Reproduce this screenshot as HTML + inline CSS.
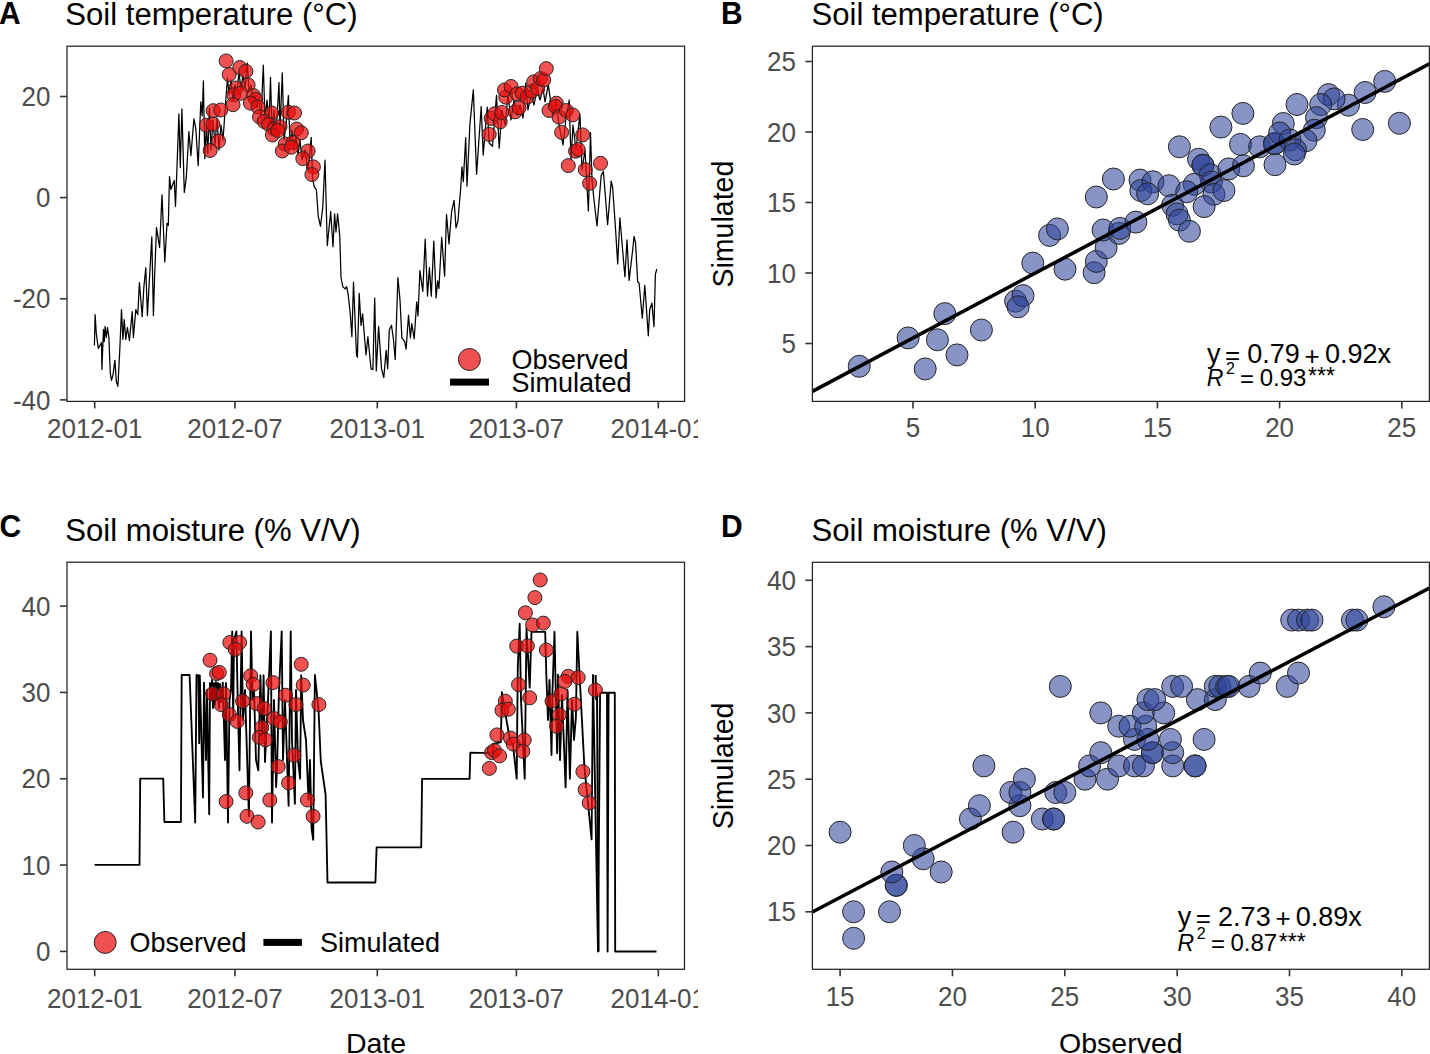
<!DOCTYPE html>
<html><head><meta charset="utf-8"><style>
html,body{margin:0;padding:0;background:#fff;width:1430px;height:1054px;overflow:hidden}
svg{display:block}
</style></head><body>
<svg width="1430" height="1054" viewBox="0 0 1430 1054">
<rect width="1430" height="1054" fill="#fff"/>
<text transform="translate(-1,24.1) scale(1,1.02)" x="0" y="0" font-family="Liberation Sans" font-size="30" font-weight="bold" fill="#000">A</text>
<text transform="translate(65.3,24.6) scale(1,1.03)" x="0" y="0" font-family="Liberation Sans" font-size="31.1" fill="#000">Soil temperature (°C)</text>
<polyline points="94.4,345.5 95.1,314.6 96.3,333.5 98.3,348.5 99.9,345.5 101.5,342.5 101.9,369.4 103.5,329.5 104.3,341.5 105.1,326.5 106.3,337.5 107.5,327.5 108.9,337.5 110.3,373.4 111.5,380.3 113.1,374.4 114.9,360.4 116.3,381.3 117.9,386.3 119.9,347.5 121.5,309.6 122.9,339.5 124.2,319.6 125.8,339.5 127.4,327.5 129.4,340.5 132.2,311.6 133.4,337.5 135.8,309.6 137.8,314.6 139.4,282.7 142.2,316.6 143.8,287.7 145.8,267.7 147.4,315.6 150.2,265.7 151.8,236.8 153.4,315.6 154.7,273.7 156.5,227.5 158.0,237.4 159.6,247.5 162.0,194.8 164.8,262.0 167.0,223.4 168.3,225.4 169.5,176.6 170.9,189.5 172.3,185.5 174.3,180.6 175.5,206.5 176.9,169.6 178.9,113.8 180.3,167.6 181.9,108.8 184.3,192.5 186.3,177.6 188.9,131.7 190.9,155.6 193.9,118.8 195.8,128.7 198.2,165.6 200.8,101.8 202.2,115.8 203.4,80.9 204.8,158.6 206.4,125.7 207.8,153.6 209.4,107.8 211.0,150.0 213.0,120.0 215.0,145.0 217.0,118.0 219.0,150.0 221.0,125.0 223.0,140.0 225.7,101.8 227.5,78.0 229.0,95.0 231.0,80.0 233.0,100.0 235.0,85.0 237.0,92.0 239.0,72.0 241.0,90.0 243.0,75.0 245.0,88.0 247.3,63.0 249.0,92.0 251.0,85.0 253.0,100.0 255.0,95.0 257.0,108.0 259.0,100.0 261.0,118.0 263.3,65.2 265.0,120.0 267.0,100.0 269.0,125.0 270.5,77.3 272.0,130.0 274.0,110.0 276.0,135.0 279.0,82.6 280.0,130.0 282.3,72.8 284.0,140.0 286.0,125.0 288.4,95.5 290.0,145.0 292.0,130.0 294.0,150.0 296.0,135.0 298.0,155.0 300.0,140.0 302.0,160.0 305.0,150.0 308.0,170.0 311.2,137.3 312.5,177.3 314.1,186.4 316.4,189.8 318.2,216.0 320.5,226.3 322.8,206.9 325.0,160.2 327.3,245.6 330.7,211.5 333.0,246.8 334.6,213.8 336.0,232.0 337.6,213.8 339.8,236.5 341.0,277.5 342.8,286.6 345.1,288.9 346.7,286.6 348.3,295.7 350.1,311.7 351.9,336.7 353.5,282.1 356.5,354.9 357.4,357.2 359.2,293.4 361.0,325.3 362.6,313.9 366.0,354.9 367.9,336.7 371.0,368.6 372.9,369.7 374.7,298.0 376.3,370.9 378.6,326.5 381.5,368.6 383.8,377.7 386.1,350.4 387.7,368.6 389.3,329.9 391.5,325.3 393.4,339.0 395.2,359.5 397.9,277.5 400.0,299.9 401.9,337.9 404.7,341.7 406.1,349.2 408.5,315.1 410.4,337.9 411.8,323.6 414.2,338.8 416.7,301.8 418.0,316.0 419.9,270.5 422.8,291.4 425.2,239.2 427.5,296.1 429.4,267.6 431.3,296.1 433.8,241.1 436.1,298.0 437.6,280.9 438.9,288.5 441.7,237.3 444.6,276.2 446.5,214.5 449.0,243.9 451.6,211.7 454.1,200.3 456.0,227.8 457.9,221.2 460.6,189.5 462.0,166.9 463.3,181.6 465.7,137.7 467.0,186.2 469.9,124.4 473.3,89.9 476.6,174.3 481.2,106.5 483.2,155.0 487.2,107.1 489.2,143.0 492.5,146.3 496.5,95.2 499.2,148.3 502.0,110.0 505.0,125.0 508.0,95.0 511.0,120.0 514.0,100.0 517.0,115.0 520.0,105.0 523.0,118.0 525.7,83.2 528.0,110.0 531.0,95.0 534.0,105.0 537.0,90.0 540.0,100.0 543.0,88.0 545.0,101.8 548.3,84.6 550.3,99.2 553.0,115.0 556.0,100.0 559.0,125.0 563.0,145.0 566.0,118.0 569.2,100.0 571.0,160.0 573.0,125.0 576.0,150.0 579.9,114.2 582.0,170.0 585.0,150.0 588.4,211.0 590.5,132.7 592.0,180.0 594.0,200.0 597.0,226.0 601.2,175.4 603.4,171.2 607.6,224.6 611.2,181.1 612.6,186.8 615.6,229.9 617.7,264.0 619.9,217.8 624.9,276.8 627.0,239.8 629.1,280.4 632.7,249.8 634.1,236.3 635.5,242.7 637.7,281.8 639.1,283.2 642.3,318.1 644.8,285.3 648.3,335.8 649.7,309.5 651.9,303.1 654.0,326.6 655.4,274.0 656.9,269.0" fill="none" stroke="#000" stroke-width="1.25" stroke-linejoin="round"/>
<circle cx="226.1" cy="60.9" r="7" fill="rgb(232,14,12)" fill-opacity="0.72" stroke="#262626" stroke-width="1.0"/>
<circle cx="229.2" cy="74.6" r="7" fill="rgb(232,14,12)" fill-opacity="0.72" stroke="#262626" stroke-width="1.0"/>
<circle cx="239.8" cy="67.5" r="7" fill="rgb(232,14,12)" fill-opacity="0.72" stroke="#262626" stroke-width="1.0"/>
<circle cx="245.9" cy="71.3" r="7" fill="rgb(232,14,12)" fill-opacity="0.72" stroke="#262626" stroke-width="1.0"/>
<circle cx="248.1" cy="84.9" r="7" fill="rgb(232,14,12)" fill-opacity="0.72" stroke="#262626" stroke-width="1.0"/>
<circle cx="236.0" cy="88.0" r="7" fill="rgb(232,14,12)" fill-opacity="0.72" stroke="#262626" stroke-width="1.0"/>
<circle cx="233.7" cy="94.8" r="7" fill="rgb(232,14,12)" fill-opacity="0.72" stroke="#262626" stroke-width="1.0"/>
<circle cx="240.6" cy="93.3" r="7" fill="rgb(232,14,12)" fill-opacity="0.72" stroke="#262626" stroke-width="1.0"/>
<circle cx="233.0" cy="104.7" r="7" fill="rgb(232,14,12)" fill-opacity="0.72" stroke="#262626" stroke-width="1.0"/>
<circle cx="213.2" cy="110.7" r="7" fill="rgb(232,14,12)" fill-opacity="0.72" stroke="#262626" stroke-width="1.0"/>
<circle cx="220.8" cy="110.0" r="7" fill="rgb(232,14,12)" fill-opacity="0.72" stroke="#262626" stroke-width="1.0"/>
<circle cx="206.4" cy="125.2" r="7" fill="rgb(232,14,12)" fill-opacity="0.72" stroke="#262626" stroke-width="1.0"/>
<circle cx="212.9" cy="124.1" r="7" fill="rgb(232,14,12)" fill-opacity="0.72" stroke="#262626" stroke-width="1.0"/>
<circle cx="218.5" cy="141.1" r="7" fill="rgb(232,14,12)" fill-opacity="0.72" stroke="#262626" stroke-width="1.0"/>
<circle cx="210.2" cy="150.5" r="7" fill="rgb(232,14,12)" fill-opacity="0.72" stroke="#262626" stroke-width="1.0"/>
<circle cx="253.5" cy="95.6" r="7" fill="rgb(232,14,12)" fill-opacity="0.72" stroke="#262626" stroke-width="1.0"/>
<circle cx="255.7" cy="99.3" r="7" fill="rgb(232,14,12)" fill-opacity="0.72" stroke="#262626" stroke-width="1.0"/>
<circle cx="250.4" cy="103.1" r="7" fill="rgb(232,14,12)" fill-opacity="0.72" stroke="#262626" stroke-width="1.0"/>
<circle cx="258.0" cy="106.9" r="7" fill="rgb(232,14,12)" fill-opacity="0.72" stroke="#262626" stroke-width="1.0"/>
<circle cx="259.5" cy="116.8" r="7" fill="rgb(232,14,12)" fill-opacity="0.72" stroke="#262626" stroke-width="1.0"/>
<circle cx="271.7" cy="113.0" r="7" fill="rgb(232,14,12)" fill-opacity="0.72" stroke="#262626" stroke-width="1.0"/>
<circle cx="264.1" cy="121.4" r="7" fill="rgb(232,14,12)" fill-opacity="0.72" stroke="#262626" stroke-width="1.0"/>
<circle cx="268.6" cy="124.4" r="7" fill="rgb(232,14,12)" fill-opacity="0.72" stroke="#262626" stroke-width="1.0"/>
<circle cx="274.0" cy="129.0" r="7" fill="rgb(232,14,12)" fill-opacity="0.72" stroke="#262626" stroke-width="1.0"/>
<circle cx="280.0" cy="126.7" r="7" fill="rgb(232,14,12)" fill-opacity="0.72" stroke="#262626" stroke-width="1.0"/>
<circle cx="272.4" cy="135.0" r="7" fill="rgb(232,14,12)" fill-opacity="0.72" stroke="#262626" stroke-width="1.0"/>
<circle cx="277.8" cy="130.5" r="7" fill="rgb(232,14,12)" fill-opacity="0.72" stroke="#262626" stroke-width="1.0"/>
<circle cx="288.4" cy="112.3" r="7" fill="rgb(232,14,12)" fill-opacity="0.72" stroke="#262626" stroke-width="1.0"/>
<circle cx="294.5" cy="113.0" r="7" fill="rgb(232,14,12)" fill-opacity="0.72" stroke="#262626" stroke-width="1.0"/>
<circle cx="296.7" cy="129.0" r="7" fill="rgb(232,14,12)" fill-opacity="0.72" stroke="#262626" stroke-width="1.0"/>
<circle cx="301.3" cy="132.8" r="7" fill="rgb(232,14,12)" fill-opacity="0.72" stroke="#262626" stroke-width="1.0"/>
<circle cx="285.3" cy="144.1" r="7" fill="rgb(232,14,12)" fill-opacity="0.72" stroke="#262626" stroke-width="1.0"/>
<circle cx="292.9" cy="142.6" r="7" fill="rgb(232,14,12)" fill-opacity="0.72" stroke="#262626" stroke-width="1.0"/>
<circle cx="282.3" cy="151.0" r="7" fill="rgb(232,14,12)" fill-opacity="0.72" stroke="#262626" stroke-width="1.0"/>
<circle cx="291.4" cy="147.2" r="7" fill="rgb(232,14,12)" fill-opacity="0.72" stroke="#262626" stroke-width="1.0"/>
<circle cx="308.1" cy="151.0" r="7" fill="rgb(232,14,12)" fill-opacity="0.72" stroke="#262626" stroke-width="1.0"/>
<circle cx="302.8" cy="158.6" r="7" fill="rgb(232,14,12)" fill-opacity="0.72" stroke="#262626" stroke-width="1.0"/>
<circle cx="313.4" cy="166.9" r="7" fill="rgb(232,14,12)" fill-opacity="0.72" stroke="#262626" stroke-width="1.0"/>
<circle cx="311.9" cy="174.5" r="7" fill="rgb(232,14,12)" fill-opacity="0.72" stroke="#262626" stroke-width="1.0"/>
<circle cx="489.2" cy="134.4" r="7" fill="rgb(232,14,12)" fill-opacity="0.72" stroke="#262626" stroke-width="1.0"/>
<circle cx="491.2" cy="118.4" r="7" fill="rgb(232,14,12)" fill-opacity="0.72" stroke="#262626" stroke-width="1.0"/>
<circle cx="494.5" cy="113.8" r="7" fill="rgb(232,14,12)" fill-opacity="0.72" stroke="#262626" stroke-width="1.0"/>
<circle cx="500.2" cy="121.8" r="7" fill="rgb(232,14,12)" fill-opacity="0.72" stroke="#262626" stroke-width="1.0"/>
<circle cx="501.8" cy="112.5" r="7" fill="rgb(232,14,12)" fill-opacity="0.72" stroke="#262626" stroke-width="1.0"/>
<circle cx="505.8" cy="97.2" r="7" fill="rgb(232,14,12)" fill-opacity="0.72" stroke="#262626" stroke-width="1.0"/>
<circle cx="504.5" cy="89.9" r="7" fill="rgb(232,14,12)" fill-opacity="0.72" stroke="#262626" stroke-width="1.0"/>
<circle cx="511.1" cy="86.5" r="7" fill="rgb(232,14,12)" fill-opacity="0.72" stroke="#262626" stroke-width="1.0"/>
<circle cx="515.1" cy="111.8" r="7" fill="rgb(232,14,12)" fill-opacity="0.72" stroke="#262626" stroke-width="1.0"/>
<circle cx="519.1" cy="107.8" r="7" fill="rgb(232,14,12)" fill-opacity="0.72" stroke="#262626" stroke-width="1.0"/>
<circle cx="517.1" cy="93.9" r="7" fill="rgb(232,14,12)" fill-opacity="0.72" stroke="#262626" stroke-width="1.0"/>
<circle cx="522.4" cy="93.2" r="7" fill="rgb(232,14,12)" fill-opacity="0.72" stroke="#262626" stroke-width="1.0"/>
<circle cx="527.1" cy="97.2" r="7" fill="rgb(232,14,12)" fill-opacity="0.72" stroke="#262626" stroke-width="1.0"/>
<circle cx="531.7" cy="91.2" r="7" fill="rgb(232,14,12)" fill-opacity="0.72" stroke="#262626" stroke-width="1.0"/>
<circle cx="533.7" cy="81.9" r="7" fill="rgb(232,14,12)" fill-opacity="0.72" stroke="#262626" stroke-width="1.0"/>
<circle cx="537.7" cy="88.5" r="7" fill="rgb(232,14,12)" fill-opacity="0.72" stroke="#262626" stroke-width="1.0"/>
<circle cx="540.4" cy="78.6" r="7" fill="rgb(232,14,12)" fill-opacity="0.72" stroke="#262626" stroke-width="1.0"/>
<circle cx="543.7" cy="79.9" r="7" fill="rgb(232,14,12)" fill-opacity="0.72" stroke="#262626" stroke-width="1.0"/>
<circle cx="546.3" cy="68.6" r="7" fill="rgb(232,14,12)" fill-opacity="0.72" stroke="#262626" stroke-width="1.0"/>
<circle cx="549.0" cy="110.5" r="7" fill="rgb(232,14,12)" fill-opacity="0.72" stroke="#262626" stroke-width="1.0"/>
<circle cx="556.3" cy="103.2" r="7" fill="rgb(232,14,12)" fill-opacity="0.72" stroke="#262626" stroke-width="1.0"/>
<circle cx="555.4" cy="106.4" r="7" fill="rgb(232,14,12)" fill-opacity="0.72" stroke="#262626" stroke-width="1.0"/>
<circle cx="559.0" cy="117.1" r="7" fill="rgb(232,14,12)" fill-opacity="0.72" stroke="#262626" stroke-width="1.0"/>
<circle cx="561.6" cy="132.4" r="7" fill="rgb(232,14,12)" fill-opacity="0.72" stroke="#262626" stroke-width="1.0"/>
<circle cx="566.3" cy="110.5" r="7" fill="rgb(232,14,12)" fill-opacity="0.72" stroke="#262626" stroke-width="1.0"/>
<circle cx="572.7" cy="114.9" r="7" fill="rgb(232,14,12)" fill-opacity="0.72" stroke="#262626" stroke-width="1.0"/>
<circle cx="582.7" cy="134.9" r="7" fill="rgb(232,14,12)" fill-opacity="0.72" stroke="#262626" stroke-width="1.0"/>
<circle cx="575.6" cy="151.2" r="7" fill="rgb(232,14,12)" fill-opacity="0.72" stroke="#262626" stroke-width="1.0"/>
<circle cx="578.2" cy="149.5" r="7" fill="rgb(232,14,12)" fill-opacity="0.72" stroke="#262626" stroke-width="1.0"/>
<circle cx="568.3" cy="165.6" r="7" fill="rgb(232,14,12)" fill-opacity="0.72" stroke="#262626" stroke-width="1.0"/>
<circle cx="585.3" cy="169.7" r="7" fill="rgb(232,14,12)" fill-opacity="0.72" stroke="#262626" stroke-width="1.0"/>
<circle cx="600.5" cy="163.3" r="7" fill="rgb(232,14,12)" fill-opacity="0.72" stroke="#262626" stroke-width="1.0"/>
<circle cx="589.6" cy="183.3" r="7" fill="rgb(232,14,12)" fill-opacity="0.72" stroke="#262626" stroke-width="1.0"/>
<circle cx="469.4" cy="359.5" r="11" fill="rgb(232,14,12)" fill-opacity="0.72" stroke="#262626" stroke-width="1.0"/>
<rect x="450" y="378.6" width="39" height="7" fill="#000"/>
<text transform="translate(511.5,369.3) scale(1,1.04)" x="0" y="0" font-family="Liberation Sans" font-size="27" fill="#000">Observed</text>
<text transform="translate(511.5,392.3) scale(1,1.04)" x="0" y="0" font-family="Liberation Sans" font-size="27" fill="#000">Simulated</text>
<rect x="67.0" y="46.2" width="617.6" height="355.2" fill="none" stroke="#242424" stroke-width="1.25"/>
<line x1="60.0" y1="96.5" x2="67.0" y2="96.5" stroke="#333333" stroke-width="1.6"/>
<text transform="translate(50.5,106.1) scale(1,1.05)" x="0" y="0" text-anchor="end" font-family="Liberation Sans" font-size="26" fill="#4d4d4d">20</text>
<line x1="60.0" y1="197.6" x2="67.0" y2="197.6" stroke="#333333" stroke-width="1.6"/>
<text transform="translate(50.5,207.2) scale(1,1.05)" x="0" y="0" text-anchor="end" font-family="Liberation Sans" font-size="26" fill="#4d4d4d">0</text>
<line x1="60.0" y1="298.75" x2="67.0" y2="298.75" stroke="#333333" stroke-width="1.6"/>
<text transform="translate(50.5,308.4) scale(1,1.05)" x="0" y="0" text-anchor="end" font-family="Liberation Sans" font-size="26" fill="#4d4d4d">-20</text>
<line x1="60.0" y1="399.9" x2="67.0" y2="399.9" stroke="#333333" stroke-width="1.6"/>
<text transform="translate(50.5,409.5) scale(1,1.05)" x="0" y="0" text-anchor="end" font-family="Liberation Sans" font-size="26" fill="#4d4d4d">-40</text>
<svg x="0" y="0" width="698" height="520" overflow="hidden">
<line x1="94.7" y1="401.4" x2="94.7" y2="408.4" stroke="#333333" stroke-width="1.6"/>
<text transform="translate(94.7,437.6) scale(1,1.05)" x="0" y="0" text-anchor="middle" font-family="Liberation Sans" font-size="26" fill="#4d4d4d">2012-01</text>
<line x1="235.0" y1="401.4" x2="235.0" y2="408.4" stroke="#333333" stroke-width="1.6"/>
<text transform="translate(235.0,437.6) scale(1,1.05)" x="0" y="0" text-anchor="middle" font-family="Liberation Sans" font-size="26" fill="#4d4d4d">2012-07</text>
<line x1="377.3" y1="401.4" x2="377.3" y2="408.4" stroke="#333333" stroke-width="1.6"/>
<text transform="translate(377.3,437.6) scale(1,1.05)" x="0" y="0" text-anchor="middle" font-family="Liberation Sans" font-size="26" fill="#4d4d4d">2013-01</text>
<line x1="516.4" y1="401.4" x2="516.4" y2="408.4" stroke="#333333" stroke-width="1.6"/>
<text transform="translate(516.4,437.6) scale(1,1.05)" x="0" y="0" text-anchor="middle" font-family="Liberation Sans" font-size="26" fill="#4d4d4d">2013-07</text>
<line x1="658.3" y1="401.4" x2="658.3" y2="408.4" stroke="#333333" stroke-width="1.6"/>
<text transform="translate(658.3,437.6) scale(1,1.05)" x="0" y="0" text-anchor="middle" font-family="Liberation Sans" font-size="26" fill="#4d4d4d">2014-01</text>
</svg>
<text transform="translate(721,24.3) scale(1,1.02)" x="0" y="0" font-family="Liberation Sans" font-size="30" font-weight="bold" fill="#000">B</text>
<text transform="translate(811.5,24.6) scale(1,1.03)" x="0" y="0" font-family="Liberation Sans" font-size="31.1" fill="#000">Soil temperature (°C)</text>
<circle cx="859.2" cy="366.3" r="11" fill="rgb(46,67,153)" fill-opacity="0.57" stroke="#262626" stroke-width="1.0"/>
<circle cx="908.1" cy="337.9" r="11" fill="rgb(46,67,153)" fill-opacity="0.57" stroke="#262626" stroke-width="1.0"/>
<circle cx="925.2" cy="368.9" r="11" fill="rgb(46,67,153)" fill-opacity="0.57" stroke="#262626" stroke-width="1.0"/>
<circle cx="937.4" cy="339.8" r="11" fill="rgb(46,67,153)" fill-opacity="0.57" stroke="#262626" stroke-width="1.0"/>
<circle cx="944.8" cy="313.6" r="11" fill="rgb(46,67,153)" fill-opacity="0.57" stroke="#262626" stroke-width="1.0"/>
<circle cx="957.0" cy="354.9" r="11" fill="rgb(46,67,153)" fill-opacity="0.57" stroke="#262626" stroke-width="1.0"/>
<circle cx="981.4" cy="330.0" r="11" fill="rgb(46,67,153)" fill-opacity="0.57" stroke="#262626" stroke-width="1.0"/>
<circle cx="1015.6" cy="301.2" r="11" fill="rgb(46,67,153)" fill-opacity="0.57" stroke="#262626" stroke-width="1.0"/>
<circle cx="1023.0" cy="295.6" r="11" fill="rgb(46,67,153)" fill-opacity="0.57" stroke="#262626" stroke-width="1.0"/>
<circle cx="1018.1" cy="306.8" r="11" fill="rgb(46,67,153)" fill-opacity="0.57" stroke="#262626" stroke-width="1.0"/>
<circle cx="1032.8" cy="263.1" r="11" fill="rgb(46,67,153)" fill-opacity="0.57" stroke="#262626" stroke-width="1.0"/>
<circle cx="1065.0" cy="269.2" r="11" fill="rgb(46,67,153)" fill-opacity="0.57" stroke="#262626" stroke-width="1.0"/>
<circle cx="1049.6" cy="235.4" r="11" fill="rgb(46,67,153)" fill-opacity="0.57" stroke="#262626" stroke-width="1.0"/>
<circle cx="1057.4" cy="228.9" r="11" fill="rgb(46,67,153)" fill-opacity="0.57" stroke="#262626" stroke-width="1.0"/>
<circle cx="1094.1" cy="272.7" r="11" fill="rgb(46,67,153)" fill-opacity="0.57" stroke="#262626" stroke-width="1.0"/>
<circle cx="1096.3" cy="261.4" r="11" fill="rgb(46,67,153)" fill-opacity="0.57" stroke="#262626" stroke-width="1.0"/>
<circle cx="1106.1" cy="247.8" r="11" fill="rgb(46,67,153)" fill-opacity="0.57" stroke="#262626" stroke-width="1.0"/>
<circle cx="1103.1" cy="230.0" r="11" fill="rgb(46,67,153)" fill-opacity="0.57" stroke="#262626" stroke-width="1.0"/>
<circle cx="1119.0" cy="233.4" r="11" fill="rgb(46,67,153)" fill-opacity="0.57" stroke="#262626" stroke-width="1.0"/>
<circle cx="1119.8" cy="228.4" r="11" fill="rgb(46,67,153)" fill-opacity="0.57" stroke="#262626" stroke-width="1.0"/>
<circle cx="1096.3" cy="197.0" r="11" fill="rgb(46,67,153)" fill-opacity="0.57" stroke="#262626" stroke-width="1.0"/>
<circle cx="1113.4" cy="179.0" r="11" fill="rgb(46,67,153)" fill-opacity="0.57" stroke="#262626" stroke-width="1.0"/>
<circle cx="1135.9" cy="222.1" r="11" fill="rgb(46,67,153)" fill-opacity="0.57" stroke="#262626" stroke-width="1.0"/>
<circle cx="1140.0" cy="180.1" r="11" fill="rgb(46,67,153)" fill-opacity="0.57" stroke="#262626" stroke-width="1.0"/>
<circle cx="1140.8" cy="190.5" r="11" fill="rgb(46,67,153)" fill-opacity="0.57" stroke="#262626" stroke-width="1.0"/>
<circle cx="1153.0" cy="181.8" r="11" fill="rgb(46,67,153)" fill-opacity="0.57" stroke="#262626" stroke-width="1.0"/>
<circle cx="1147.6" cy="193.8" r="11" fill="rgb(46,67,153)" fill-opacity="0.57" stroke="#262626" stroke-width="1.0"/>
<circle cx="1168.9" cy="185.7" r="11" fill="rgb(46,67,153)" fill-opacity="0.57" stroke="#262626" stroke-width="1.0"/>
<circle cx="1172.6" cy="205.3" r="11" fill="rgb(46,67,153)" fill-opacity="0.57" stroke="#262626" stroke-width="1.0"/>
<circle cx="1177.0" cy="213.9" r="11" fill="rgb(46,67,153)" fill-opacity="0.57" stroke="#262626" stroke-width="1.0"/>
<circle cx="1179.4" cy="220.1" r="11" fill="rgb(46,67,153)" fill-opacity="0.57" stroke="#262626" stroke-width="1.0"/>
<circle cx="1179.4" cy="146.8" r="11" fill="rgb(46,67,153)" fill-opacity="0.57" stroke="#262626" stroke-width="1.0"/>
<circle cx="1220.9" cy="127.1" r="11" fill="rgb(46,67,153)" fill-opacity="0.57" stroke="#262626" stroke-width="1.0"/>
<circle cx="1240.5" cy="144.4" r="11" fill="rgb(46,67,153)" fill-opacity="0.57" stroke="#262626" stroke-width="1.0"/>
<circle cx="1259.6" cy="146.8" r="11" fill="rgb(46,67,153)" fill-opacity="0.57" stroke="#262626" stroke-width="1.0"/>
<circle cx="1274.5" cy="143.7" r="11" fill="rgb(46,67,153)" fill-opacity="0.57" stroke="#262626" stroke-width="1.0"/>
<circle cx="1274.5" cy="143.7" r="11" fill="rgb(46,67,153)" fill-opacity="0.57" stroke="#262626" stroke-width="1.0"/>
<circle cx="1283.3" cy="123.5" r="11" fill="rgb(46,67,153)" fill-opacity="0.57" stroke="#262626" stroke-width="1.0"/>
<circle cx="1275.0" cy="164.7" r="11" fill="rgb(46,67,153)" fill-opacity="0.57" stroke="#262626" stroke-width="1.0"/>
<circle cx="1198.5" cy="159.2" r="11" fill="rgb(46,67,153)" fill-opacity="0.57" stroke="#262626" stroke-width="1.0"/>
<circle cx="1202.9" cy="165.3" r="11" fill="rgb(46,67,153)" fill-opacity="0.57" stroke="#262626" stroke-width="1.0"/>
<circle cx="1202.9" cy="165.3" r="11" fill="rgb(46,67,153)" fill-opacity="0.57" stroke="#262626" stroke-width="1.0"/>
<circle cx="1210.2" cy="174.6" r="11" fill="rgb(46,67,153)" fill-opacity="0.57" stroke="#262626" stroke-width="1.0"/>
<circle cx="1211.4" cy="181.9" r="11" fill="rgb(46,67,153)" fill-opacity="0.57" stroke="#262626" stroke-width="1.0"/>
<circle cx="1213.9" cy="194.3" r="11" fill="rgb(46,67,153)" fill-opacity="0.57" stroke="#262626" stroke-width="1.0"/>
<circle cx="1223.9" cy="190.5" r="11" fill="rgb(46,67,153)" fill-opacity="0.57" stroke="#262626" stroke-width="1.0"/>
<circle cx="1228.8" cy="168.9" r="11" fill="rgb(46,67,153)" fill-opacity="0.57" stroke="#262626" stroke-width="1.0"/>
<circle cx="1243.4" cy="165.8" r="11" fill="rgb(46,67,153)" fill-opacity="0.57" stroke="#262626" stroke-width="1.0"/>
<circle cx="1194.3" cy="184.3" r="11" fill="rgb(46,67,153)" fill-opacity="0.57" stroke="#262626" stroke-width="1.0"/>
<circle cx="1186.7" cy="191.8" r="11" fill="rgb(46,67,153)" fill-opacity="0.57" stroke="#262626" stroke-width="1.0"/>
<circle cx="1204.1" cy="206.6" r="11" fill="rgb(46,67,153)" fill-opacity="0.57" stroke="#262626" stroke-width="1.0"/>
<circle cx="1189.4" cy="231.3" r="11" fill="rgb(46,67,153)" fill-opacity="0.57" stroke="#262626" stroke-width="1.0"/>
<circle cx="1384.7" cy="81.4" r="11" fill="rgb(46,67,153)" fill-opacity="0.57" stroke="#262626" stroke-width="1.0"/>
<circle cx="1399.4" cy="123.3" r="11" fill="rgb(46,67,153)" fill-opacity="0.57" stroke="#262626" stroke-width="1.0"/>
<circle cx="1362.7" cy="129.5" r="11" fill="rgb(46,67,153)" fill-opacity="0.57" stroke="#262626" stroke-width="1.0"/>
<circle cx="1365.1" cy="92.5" r="11" fill="rgb(46,67,153)" fill-opacity="0.57" stroke="#262626" stroke-width="1.0"/>
<circle cx="1348.5" cy="105.2" r="11" fill="rgb(46,67,153)" fill-opacity="0.57" stroke="#262626" stroke-width="1.0"/>
<circle cx="1328.5" cy="94.6" r="11" fill="rgb(46,67,153)" fill-opacity="0.57" stroke="#262626" stroke-width="1.0"/>
<circle cx="1334.1" cy="98.9" r="11" fill="rgb(46,67,153)" fill-opacity="0.57" stroke="#262626" stroke-width="1.0"/>
<circle cx="1320.7" cy="104.5" r="11" fill="rgb(46,67,153)" fill-opacity="0.57" stroke="#262626" stroke-width="1.0"/>
<circle cx="1316.5" cy="117.6" r="11" fill="rgb(46,67,153)" fill-opacity="0.57" stroke="#262626" stroke-width="1.0"/>
<circle cx="1314.3" cy="130.2" r="11" fill="rgb(46,67,153)" fill-opacity="0.57" stroke="#262626" stroke-width="1.0"/>
<circle cx="1306.0" cy="140.7" r="11" fill="rgb(46,67,153)" fill-opacity="0.57" stroke="#262626" stroke-width="1.0"/>
<circle cx="1297.0" cy="104.5" r="11" fill="rgb(46,67,153)" fill-opacity="0.57" stroke="#262626" stroke-width="1.0"/>
<circle cx="1279.6" cy="133.0" r="11" fill="rgb(46,67,153)" fill-opacity="0.57" stroke="#262626" stroke-width="1.0"/>
<circle cx="1289.9" cy="140.0" r="11" fill="rgb(46,67,153)" fill-opacity="0.57" stroke="#262626" stroke-width="1.0"/>
<circle cx="1295.5" cy="149.8" r="11" fill="rgb(46,67,153)" fill-opacity="0.57" stroke="#262626" stroke-width="1.0"/>
<circle cx="1294.3" cy="154.0" r="11" fill="rgb(46,67,153)" fill-opacity="0.57" stroke="#262626" stroke-width="1.0"/>
<circle cx="1242.9" cy="113.4" r="11" fill="rgb(46,67,153)" fill-opacity="0.57" stroke="#262626" stroke-width="1.0"/>
<line x1="812.4" y1="391.4" x2="1429.4" y2="63.9" stroke="#000" stroke-width="3.6"/>
<rect x="812.4" y="46.2" width="617.0000000000001" height="355.2" fill="none" stroke="#242424" stroke-width="1.25"/>
<line x1="805.4" y1="343.5" x2="812.4" y2="343.5" stroke="#333333" stroke-width="1.6"/>
<text transform="translate(795.9,353.1) scale(1,1.05)" x="0" y="0" text-anchor="end" font-family="Liberation Sans" font-size="26" fill="#4d4d4d">5</text>
<line x1="805.4" y1="273.0" x2="812.4" y2="273.0" stroke="#333333" stroke-width="1.6"/>
<text transform="translate(795.9,282.6) scale(1,1.05)" x="0" y="0" text-anchor="end" font-family="Liberation Sans" font-size="26" fill="#4d4d4d">10</text>
<line x1="805.4" y1="202.5" x2="812.4" y2="202.5" stroke="#333333" stroke-width="1.6"/>
<text transform="translate(795.9,212.1) scale(1,1.05)" x="0" y="0" text-anchor="end" font-family="Liberation Sans" font-size="26" fill="#4d4d4d">15</text>
<line x1="805.4" y1="132.0" x2="812.4" y2="132.0" stroke="#333333" stroke-width="1.6"/>
<text transform="translate(795.9,141.6) scale(1,1.05)" x="0" y="0" text-anchor="end" font-family="Liberation Sans" font-size="26" fill="#4d4d4d">20</text>
<line x1="805.4" y1="61.5" x2="812.4" y2="61.5" stroke="#333333" stroke-width="1.6"/>
<text transform="translate(795.9,71.1) scale(1,1.05)" x="0" y="0" text-anchor="end" font-family="Liberation Sans" font-size="26" fill="#4d4d4d">25</text>
<line x1="913.0" y1="401.4" x2="913.0" y2="408.4" stroke="#333333" stroke-width="1.6"/>
<text transform="translate(913.0,437.4) scale(1,1.05)" x="0" y="0" text-anchor="middle" font-family="Liberation Sans" font-size="26" fill="#4d4d4d">5</text>
<line x1="1035.2" y1="401.4" x2="1035.2" y2="408.4" stroke="#333333" stroke-width="1.6"/>
<text transform="translate(1035.2,437.4) scale(1,1.05)" x="0" y="0" text-anchor="middle" font-family="Liberation Sans" font-size="26" fill="#4d4d4d">10</text>
<line x1="1157.4" y1="401.4" x2="1157.4" y2="408.4" stroke="#333333" stroke-width="1.6"/>
<text transform="translate(1157.4,437.4) scale(1,1.05)" x="0" y="0" text-anchor="middle" font-family="Liberation Sans" font-size="26" fill="#4d4d4d">15</text>
<line x1="1279.6" y1="401.4" x2="1279.6" y2="408.4" stroke="#333333" stroke-width="1.6"/>
<text transform="translate(1279.6,437.4) scale(1,1.05)" x="0" y="0" text-anchor="middle" font-family="Liberation Sans" font-size="26" fill="#4d4d4d">20</text>
<line x1="1401.8" y1="401.4" x2="1401.8" y2="408.4" stroke="#333333" stroke-width="1.6"/>
<text transform="translate(1401.8,437.4) scale(1,1.05)" x="0" y="0" text-anchor="middle" font-family="Liberation Sans" font-size="26" fill="#4d4d4d">25</text>
<text transform="translate(732.5,224.1) rotate(-90) scale(1,1.05)" text-anchor="middle" font-family="Liberation Sans" font-size="28.5" fill="#000">Simulated</text>
<text class="eq" x="1207.0" y="363.0" font-family="Liberation Sans" font-size="27" fill="#000">y</text>
<text class="eq" x="1225.0" y="364.0" font-family="Liberation Sans" font-size="26" fill="#000">=</text>
<text class="eq" x="1247.3" y="363.0" font-family="Liberation Sans" font-size="27" fill="#000">0.79</text>
<text class="eq" x="1304.6" y="364.5" font-family="Liberation Sans" font-size="26" fill="#000">+</text>
<text class="eq" x="1324.9" y="363.0" font-family="Liberation Sans" font-size="27" fill="#000">0.92x</text>
<text class="eq" x="1206.8" y="385.7" font-family="Liberation Sans" font-size="23" font-style="italic" fill="#000">R</text>
<text class="eq" x="1225.9" y="373.7" font-family="Liberation Sans" font-size="16" fill="#000">2</text>
<text class="eq" x="1240.1" y="386.9" font-family="Liberation Sans" font-size="24" fill="#000">=</text>
<text class="eq" x="1259.7" y="385.7" font-family="Liberation Sans" font-size="24" fill="#000">0.93</text>
<text class="eq" x="1308.0" y="384.4" font-family="Liberation Sans" font-size="23" fill="#000">***</text>
<text transform="translate(-0.5,536.5) scale(1,1.02)" x="0" y="0" font-family="Liberation Sans" font-size="30" font-weight="bold" fill="#000">C</text>
<text transform="translate(65.3,541.2) scale(1,1.03)" x="0" y="0" font-family="Liberation Sans" font-size="31.1" fill="#000">Soil moisture (% V/V)</text>
<polyline points="94.6,864.9 139.5,864.9 140.2,778.6 163.2,778.6 164.4,822.0 180.9,822.0 181.7,675.0 189.6,675.0 195.2,822.5 196.5,675.0 198.4,675.3 199.2,743.2 199.8,675.3 203.0,797.5 204.0,682.6 206.0,760.0 207.0,690.0 209.2,814.2 210.0,683.0 211.0,700.0 212.0,680.0 213.0,708.0 214.0,683.0 215.0,705.0 216.0,682.0 217.0,700.0 218.0,683.0 219.0,708.0 220.0,684.0 221.0,702.0 222.8,682.6 225.0,760.0 226.0,683.0 228.0,822.5 229.5,700.0 231.0,690.0 232.2,631.5 233.2,720.0 234.0,640.0 236.4,631.5 237.5,690.0 239.5,770.3 241.6,631.5 243.0,720.0 245.0,690.0 248.9,816.2 251.0,631.5 252.5,700.0 254.0,690.0 256.0,760.0 258.3,770.3 260.4,675.3 262.0,740.0 263.6,675.3 265.0,762.0 268.0,700.0 270.9,631.5 272.0,822.5 274.0,700.0 276.1,787.0 277.1,766.0 279.0,690.0 281.7,631.5 283.0,760.0 285.0,700.0 288.6,805.8 290.7,631.5 292.0,740.0 294.9,803.8 296.0,690.0 298.0,760.0 300.1,778.7 301.2,675.3 303.0,720.0 306.0,740.0 308.5,799.6 310.0,760.0 311.6,828.8 313.2,839.8 314.9,674.9 318.5,709.3 320.8,761.5 325.6,794.7 327.5,882.5 375.4,882.5 376.6,847.4 421.2,847.4 422.1,778.8 469.6,778.8 470.3,752.7 492.8,753.2 492.8,744.0 500.8,742.2 501.9,692.1 506.4,719.5 510.0,740.0 513.0,745.0 516.7,778.7 517.8,667.1 519.7,623.8 521.0,700.0 524.7,778.7 526.5,628.3 529.7,687.6 531.5,631.8 545.2,631.8 546.3,674.6 548.0,720.0 549.5,680.0 551.5,755.0 552.5,690.0 554.5,631.8 557.1,753.2 558.0,674.6 560.0,760.0 562.0,695.0 565.6,787.4 567.5,690.0 569.9,778.8 572.0,700.0 574.0,740.0 575.9,717.3 577.3,631.8 584.4,766.9 591.6,839.4 593.0,675.0 598.0,951.5 600.1,692.7 607.0,692.7 607.6,951.5 608.6,692.7 614.8,692.7 615.2,951.5 656.5,951.5" fill="none" stroke="#000" stroke-width="1.85" stroke-linejoin="round"/>
<line x1="597.0" y1="692.7" x2="598.6" y2="951.5" stroke="#000" stroke-width="2"/>
<line x1="595.6" y1="675" x2="596.2" y2="700" stroke="#000" stroke-width="2"/>
<circle cx="210.0" cy="660.2" r="7" fill="rgb(232,14,12)" fill-opacity="0.72" stroke="#262626" stroke-width="1.0"/>
<circle cx="216.6" cy="673.6" r="7" fill="rgb(232,14,12)" fill-opacity="0.72" stroke="#262626" stroke-width="1.0"/>
<circle cx="219.3" cy="672.4" r="7" fill="rgb(232,14,12)" fill-opacity="0.72" stroke="#262626" stroke-width="1.0"/>
<circle cx="212.5" cy="693.8" r="7" fill="rgb(232,14,12)" fill-opacity="0.72" stroke="#262626" stroke-width="1.0"/>
<circle cx="223.6" cy="693.8" r="7" fill="rgb(232,14,12)" fill-opacity="0.72" stroke="#262626" stroke-width="1.0"/>
<circle cx="221.1" cy="704.6" r="7" fill="rgb(232,14,12)" fill-opacity="0.72" stroke="#262626" stroke-width="1.0"/>
<circle cx="229.3" cy="714.5" r="7" fill="rgb(232,14,12)" fill-opacity="0.72" stroke="#262626" stroke-width="1.0"/>
<circle cx="237.2" cy="721.4" r="7" fill="rgb(232,14,12)" fill-opacity="0.72" stroke="#262626" stroke-width="1.0"/>
<circle cx="226.1" cy="801.5" r="7" fill="rgb(232,14,12)" fill-opacity="0.72" stroke="#262626" stroke-width="1.0"/>
<circle cx="242.6" cy="701.2" r="7" fill="rgb(232,14,12)" fill-opacity="0.72" stroke="#262626" stroke-width="1.0"/>
<circle cx="250.7" cy="675.8" r="7" fill="rgb(232,14,12)" fill-opacity="0.72" stroke="#262626" stroke-width="1.0"/>
<circle cx="253.2" cy="684.4" r="7" fill="rgb(232,14,12)" fill-opacity="0.72" stroke="#262626" stroke-width="1.0"/>
<circle cx="256.4" cy="703.6" r="7" fill="rgb(232,14,12)" fill-opacity="0.72" stroke="#262626" stroke-width="1.0"/>
<circle cx="264.3" cy="708.6" r="7" fill="rgb(232,14,12)" fill-opacity="0.72" stroke="#262626" stroke-width="1.0"/>
<circle cx="261.8" cy="727.5" r="7" fill="rgb(232,14,12)" fill-opacity="0.72" stroke="#262626" stroke-width="1.0"/>
<circle cx="259.4" cy="737.4" r="7" fill="rgb(232,14,12)" fill-opacity="0.72" stroke="#262626" stroke-width="1.0"/>
<circle cx="265.5" cy="739.9" r="7" fill="rgb(232,14,12)" fill-opacity="0.72" stroke="#262626" stroke-width="1.0"/>
<circle cx="245.8" cy="792.9" r="7" fill="rgb(232,14,12)" fill-opacity="0.72" stroke="#262626" stroke-width="1.0"/>
<circle cx="247.0" cy="816.3" r="7" fill="rgb(232,14,12)" fill-opacity="0.72" stroke="#262626" stroke-width="1.0"/>
<circle cx="258.1" cy="822.0" r="7" fill="rgb(232,14,12)" fill-opacity="0.72" stroke="#262626" stroke-width="1.0"/>
<circle cx="229.8" cy="642.5" r="7" fill="rgb(232,14,12)" fill-opacity="0.72" stroke="#262626" stroke-width="1.0"/>
<circle cx="239.6" cy="642.5" r="7" fill="rgb(232,14,12)" fill-opacity="0.72" stroke="#262626" stroke-width="1.0"/>
<circle cx="235.2" cy="649.4" r="7" fill="rgb(232,14,12)" fill-opacity="0.72" stroke="#262626" stroke-width="1.0"/>
<circle cx="301.2" cy="664.3" r="7" fill="rgb(232,14,12)" fill-opacity="0.72" stroke="#262626" stroke-width="1.0"/>
<circle cx="303.2" cy="685.1" r="7" fill="rgb(232,14,12)" fill-opacity="0.72" stroke="#262626" stroke-width="1.0"/>
<circle cx="318.9" cy="704.6" r="7" fill="rgb(232,14,12)" fill-opacity="0.72" stroke="#262626" stroke-width="1.0"/>
<circle cx="273.0" cy="682.6" r="7" fill="rgb(232,14,12)" fill-opacity="0.72" stroke="#262626" stroke-width="1.0"/>
<circle cx="285.5" cy="695.2" r="7" fill="rgb(232,14,12)" fill-opacity="0.72" stroke="#262626" stroke-width="1.0"/>
<circle cx="295.9" cy="704.6" r="7" fill="rgb(232,14,12)" fill-opacity="0.72" stroke="#262626" stroke-width="1.0"/>
<circle cx="274.0" cy="718.6" r="7" fill="rgb(232,14,12)" fill-opacity="0.72" stroke="#262626" stroke-width="1.0"/>
<circle cx="280.3" cy="721.9" r="7" fill="rgb(232,14,12)" fill-opacity="0.72" stroke="#262626" stroke-width="1.0"/>
<circle cx="293.9" cy="755.3" r="7" fill="rgb(232,14,12)" fill-opacity="0.72" stroke="#262626" stroke-width="1.0"/>
<circle cx="278.2" cy="766.6" r="7" fill="rgb(232,14,12)" fill-opacity="0.72" stroke="#262626" stroke-width="1.0"/>
<circle cx="288.6" cy="782.9" r="7" fill="rgb(232,14,12)" fill-opacity="0.72" stroke="#262626" stroke-width="1.0"/>
<circle cx="269.8" cy="800.0" r="7" fill="rgb(232,14,12)" fill-opacity="0.72" stroke="#262626" stroke-width="1.0"/>
<circle cx="307.4" cy="800.0" r="7" fill="rgb(232,14,12)" fill-opacity="0.72" stroke="#262626" stroke-width="1.0"/>
<circle cx="313.1" cy="816.3" r="7" fill="rgb(232,14,12)" fill-opacity="0.72" stroke="#262626" stroke-width="1.0"/>
<circle cx="540.2" cy="580.0" r="7" fill="rgb(232,14,12)" fill-opacity="0.72" stroke="#262626" stroke-width="1.0"/>
<circle cx="534.9" cy="597.6" r="7" fill="rgb(232,14,12)" fill-opacity="0.72" stroke="#262626" stroke-width="1.0"/>
<circle cx="525.4" cy="612.8" r="7" fill="rgb(232,14,12)" fill-opacity="0.72" stroke="#262626" stroke-width="1.0"/>
<circle cx="532.6" cy="624.9" r="7" fill="rgb(232,14,12)" fill-opacity="0.72" stroke="#262626" stroke-width="1.0"/>
<circle cx="543.3" cy="623.1" r="7" fill="rgb(232,14,12)" fill-opacity="0.72" stroke="#262626" stroke-width="1.0"/>
<circle cx="516.7" cy="646.1" r="7" fill="rgb(232,14,12)" fill-opacity="0.72" stroke="#262626" stroke-width="1.0"/>
<circle cx="527.4" cy="645.9" r="7" fill="rgb(232,14,12)" fill-opacity="0.72" stroke="#262626" stroke-width="1.0"/>
<circle cx="546.3" cy="650.0" r="7" fill="rgb(232,14,12)" fill-opacity="0.72" stroke="#262626" stroke-width="1.0"/>
<circle cx="518.5" cy="684.6" r="7" fill="rgb(232,14,12)" fill-opacity="0.72" stroke="#262626" stroke-width="1.0"/>
<circle cx="529.7" cy="697.8" r="7" fill="rgb(232,14,12)" fill-opacity="0.72" stroke="#262626" stroke-width="1.0"/>
<circle cx="505.3" cy="701.2" r="7" fill="rgb(232,14,12)" fill-opacity="0.72" stroke="#262626" stroke-width="1.0"/>
<circle cx="501.9" cy="710.3" r="7" fill="rgb(232,14,12)" fill-opacity="0.72" stroke="#262626" stroke-width="1.0"/>
<circle cx="508.3" cy="709.2" r="7" fill="rgb(232,14,12)" fill-opacity="0.72" stroke="#262626" stroke-width="1.0"/>
<circle cx="496.9" cy="734.9" r="7" fill="rgb(232,14,12)" fill-opacity="0.72" stroke="#262626" stroke-width="1.0"/>
<circle cx="510.5" cy="738.1" r="7" fill="rgb(232,14,12)" fill-opacity="0.72" stroke="#262626" stroke-width="1.0"/>
<circle cx="513.3" cy="744.1" r="7" fill="rgb(232,14,12)" fill-opacity="0.72" stroke="#262626" stroke-width="1.0"/>
<circle cx="524.2" cy="740.0" r="7" fill="rgb(232,14,12)" fill-opacity="0.72" stroke="#262626" stroke-width="1.0"/>
<circle cx="522.8" cy="751.3" r="7" fill="rgb(232,14,12)" fill-opacity="0.72" stroke="#262626" stroke-width="1.0"/>
<circle cx="491.6" cy="752.5" r="7" fill="rgb(232,14,12)" fill-opacity="0.72" stroke="#262626" stroke-width="1.0"/>
<circle cx="494.5" cy="750.5" r="7" fill="rgb(232,14,12)" fill-opacity="0.72" stroke="#262626" stroke-width="1.0"/>
<circle cx="499.6" cy="755.9" r="7" fill="rgb(232,14,12)" fill-opacity="0.72" stroke="#262626" stroke-width="1.0"/>
<circle cx="489.4" cy="768.4" r="7" fill="rgb(232,14,12)" fill-opacity="0.72" stroke="#262626" stroke-width="1.0"/>
<circle cx="552.0" cy="701.2" r="7" fill="rgb(232,14,12)" fill-opacity="0.72" stroke="#262626" stroke-width="1.0"/>
<circle cx="561.1" cy="693.9" r="7" fill="rgb(232,14,12)" fill-opacity="0.72" stroke="#262626" stroke-width="1.0"/>
<circle cx="568.2" cy="676.3" r="7" fill="rgb(232,14,12)" fill-opacity="0.72" stroke="#262626" stroke-width="1.0"/>
<circle cx="559.3" cy="714.9" r="7" fill="rgb(232,14,12)" fill-opacity="0.72" stroke="#262626" stroke-width="1.0"/>
<circle cx="556.6" cy="726.3" r="7" fill="rgb(232,14,12)" fill-opacity="0.72" stroke="#262626" stroke-width="1.0"/>
<circle cx="578.2" cy="677.6" r="7" fill="rgb(232,14,12)" fill-opacity="0.72" stroke="#262626" stroke-width="1.0"/>
<circle cx="564.8" cy="681.4" r="7" fill="rgb(232,14,12)" fill-opacity="0.72" stroke="#262626" stroke-width="1.0"/>
<circle cx="574.4" cy="704.2" r="7" fill="rgb(232,14,12)" fill-opacity="0.72" stroke="#262626" stroke-width="1.0"/>
<circle cx="595.4" cy="690.1" r="7" fill="rgb(232,14,12)" fill-opacity="0.72" stroke="#262626" stroke-width="1.0"/>
<circle cx="582.9" cy="771.6" r="7" fill="rgb(232,14,12)" fill-opacity="0.72" stroke="#262626" stroke-width="1.0"/>
<circle cx="585.1" cy="789.7" r="7" fill="rgb(232,14,12)" fill-opacity="0.72" stroke="#262626" stroke-width="1.0"/>
<circle cx="589.2" cy="802.9" r="7" fill="rgb(232,14,12)" fill-opacity="0.72" stroke="#262626" stroke-width="1.0"/>
<circle cx="105.2" cy="942.4" r="11" fill="rgb(232,14,12)" fill-opacity="0.72" stroke="#262626" stroke-width="1.0"/>
<text transform="translate(129.5,952.2) scale(1,1.04)" x="0" y="0" font-family="Liberation Sans" font-size="27" fill="#000">Observed</text>
<rect x="263.4" y="938.9" width="38.5" height="7" fill="#000"/>
<text transform="translate(320,952.2) scale(1,1.04)" x="0" y="0" font-family="Liberation Sans" font-size="27" fill="#000">Simulated</text>
<rect x="67.0" y="562.2" width="617.5" height="407.0999999999999" fill="none" stroke="#242424" stroke-width="1.25"/>
<line x1="60.0" y1="951.4" x2="67.0" y2="951.4" stroke="#333333" stroke-width="1.6"/>
<text transform="translate(50.5,961.0) scale(1,1.05)" x="0" y="0" text-anchor="end" font-family="Liberation Sans" font-size="26" fill="#4d4d4d">0</text>
<line x1="60.0" y1="865.0699999999999" x2="67.0" y2="865.0699999999999" stroke="#333333" stroke-width="1.6"/>
<text transform="translate(50.5,874.7) scale(1,1.05)" x="0" y="0" text-anchor="end" font-family="Liberation Sans" font-size="26" fill="#4d4d4d">10</text>
<line x1="60.0" y1="778.74" x2="67.0" y2="778.74" stroke="#333333" stroke-width="1.6"/>
<text transform="translate(50.5,788.3) scale(1,1.05)" x="0" y="0" text-anchor="end" font-family="Liberation Sans" font-size="26" fill="#4d4d4d">20</text>
<line x1="60.0" y1="692.4100000000001" x2="67.0" y2="692.4100000000001" stroke="#333333" stroke-width="1.6"/>
<text transform="translate(50.5,702.0) scale(1,1.05)" x="0" y="0" text-anchor="end" font-family="Liberation Sans" font-size="26" fill="#4d4d4d">30</text>
<line x1="60.0" y1="606.08" x2="67.0" y2="606.08" stroke="#333333" stroke-width="1.6"/>
<text transform="translate(50.5,615.7) scale(1,1.05)" x="0" y="0" text-anchor="end" font-family="Liberation Sans" font-size="26" fill="#4d4d4d">40</text>
<svg x="0" y="540" width="698" height="520" overflow="hidden">
<g transform="translate(0,-540)">
<line x1="94.7" y1="969.3" x2="94.7" y2="976.3" stroke="#333333" stroke-width="1.6"/>
<text transform="translate(94.7,1007.8) scale(1,1.05)" x="0" y="0" text-anchor="middle" font-family="Liberation Sans" font-size="26" fill="#4d4d4d">2012-01</text>
<line x1="235.0" y1="969.3" x2="235.0" y2="976.3" stroke="#333333" stroke-width="1.6"/>
<text transform="translate(235.0,1007.8) scale(1,1.05)" x="0" y="0" text-anchor="middle" font-family="Liberation Sans" font-size="26" fill="#4d4d4d">2012-07</text>
<line x1="377.3" y1="969.3" x2="377.3" y2="976.3" stroke="#333333" stroke-width="1.6"/>
<text transform="translate(377.3,1007.8) scale(1,1.05)" x="0" y="0" text-anchor="middle" font-family="Liberation Sans" font-size="26" fill="#4d4d4d">2013-01</text>
<line x1="516.4" y1="969.3" x2="516.4" y2="976.3" stroke="#333333" stroke-width="1.6"/>
<text transform="translate(516.4,1007.8) scale(1,1.05)" x="0" y="0" text-anchor="middle" font-family="Liberation Sans" font-size="26" fill="#4d4d4d">2013-07</text>
<line x1="658.3" y1="969.3" x2="658.3" y2="976.3" stroke="#333333" stroke-width="1.6"/>
<text transform="translate(658.3,1007.8) scale(1,1.05)" x="0" y="0" text-anchor="middle" font-family="Liberation Sans" font-size="26" fill="#4d4d4d">2014-01</text>
</g></svg>
<text x="376" y="1052.6" text-anchor="middle" font-family="Liberation Sans" font-size="28.5" fill="#000">Date</text>
<text transform="translate(721,536.5) scale(1,1.02)" x="0" y="0" font-family="Liberation Sans" font-size="30" font-weight="bold" fill="#000">D</text>
<text transform="translate(811.5,541.2) scale(1,1.03)" x="0" y="0" font-family="Liberation Sans" font-size="31.1" fill="#000">Soil moisture (% V/V)</text>
<circle cx="853.6" cy="938.3" r="11" fill="rgb(46,67,153)" fill-opacity="0.57" stroke="#262626" stroke-width="1.0"/>
<circle cx="853.6" cy="911.8" r="11" fill="rgb(46,67,153)" fill-opacity="0.57" stroke="#262626" stroke-width="1.0"/>
<circle cx="889.5" cy="911.8" r="11" fill="rgb(46,67,153)" fill-opacity="0.57" stroke="#262626" stroke-width="1.0"/>
<circle cx="896.3" cy="885.3" r="11" fill="rgb(46,67,153)" fill-opacity="0.57" stroke="#262626" stroke-width="1.0"/>
<circle cx="896.3" cy="885.3" r="11" fill="rgb(46,67,153)" fill-opacity="0.57" stroke="#262626" stroke-width="1.0"/>
<circle cx="891.8" cy="872.0" r="11" fill="rgb(46,67,153)" fill-opacity="0.57" stroke="#262626" stroke-width="1.0"/>
<circle cx="941.2" cy="872.0" r="11" fill="rgb(46,67,153)" fill-opacity="0.57" stroke="#262626" stroke-width="1.0"/>
<circle cx="923.2" cy="858.8" r="11" fill="rgb(46,67,153)" fill-opacity="0.57" stroke="#262626" stroke-width="1.0"/>
<circle cx="914.3" cy="845.5" r="11" fill="rgb(46,67,153)" fill-opacity="0.57" stroke="#262626" stroke-width="1.0"/>
<circle cx="840.1" cy="832.2" r="11" fill="rgb(46,67,153)" fill-opacity="0.57" stroke="#262626" stroke-width="1.0"/>
<circle cx="1013.1" cy="832.2" r="11" fill="rgb(46,67,153)" fill-opacity="0.57" stroke="#262626" stroke-width="1.0"/>
<circle cx="970.4" cy="819.0" r="11" fill="rgb(46,67,153)" fill-opacity="0.57" stroke="#262626" stroke-width="1.0"/>
<circle cx="1042.3" cy="819.0" r="11" fill="rgb(46,67,153)" fill-opacity="0.57" stroke="#262626" stroke-width="1.0"/>
<circle cx="1053.6" cy="819.0" r="11" fill="rgb(46,67,153)" fill-opacity="0.57" stroke="#262626" stroke-width="1.0"/>
<circle cx="1053.6" cy="819.0" r="11" fill="rgb(46,67,153)" fill-opacity="0.57" stroke="#262626" stroke-width="1.0"/>
<circle cx="979.4" cy="805.7" r="11" fill="rgb(46,67,153)" fill-opacity="0.57" stroke="#262626" stroke-width="1.0"/>
<circle cx="1019.9" cy="805.7" r="11" fill="rgb(46,67,153)" fill-opacity="0.57" stroke="#262626" stroke-width="1.0"/>
<circle cx="1010.9" cy="792.5" r="11" fill="rgb(46,67,153)" fill-opacity="0.57" stroke="#262626" stroke-width="1.0"/>
<circle cx="1019.9" cy="792.5" r="11" fill="rgb(46,67,153)" fill-opacity="0.57" stroke="#262626" stroke-width="1.0"/>
<circle cx="1055.8" cy="792.5" r="11" fill="rgb(46,67,153)" fill-opacity="0.57" stroke="#262626" stroke-width="1.0"/>
<circle cx="1064.8" cy="792.5" r="11" fill="rgb(46,67,153)" fill-opacity="0.57" stroke="#262626" stroke-width="1.0"/>
<circle cx="1024.4" cy="779.2" r="11" fill="rgb(46,67,153)" fill-opacity="0.57" stroke="#262626" stroke-width="1.0"/>
<circle cx="1085.0" cy="779.2" r="11" fill="rgb(46,67,153)" fill-opacity="0.57" stroke="#262626" stroke-width="1.0"/>
<circle cx="1107.5" cy="779.2" r="11" fill="rgb(46,67,153)" fill-opacity="0.57" stroke="#262626" stroke-width="1.0"/>
<circle cx="983.9" cy="765.9" r="11" fill="rgb(46,67,153)" fill-opacity="0.57" stroke="#262626" stroke-width="1.0"/>
<circle cx="1089.5" cy="765.9" r="11" fill="rgb(46,67,153)" fill-opacity="0.57" stroke="#262626" stroke-width="1.0"/>
<circle cx="1118.7" cy="765.9" r="11" fill="rgb(46,67,153)" fill-opacity="0.57" stroke="#262626" stroke-width="1.0"/>
<circle cx="1134.5" cy="765.9" r="11" fill="rgb(46,67,153)" fill-opacity="0.57" stroke="#262626" stroke-width="1.0"/>
<circle cx="1143.4" cy="765.9" r="11" fill="rgb(46,67,153)" fill-opacity="0.57" stroke="#262626" stroke-width="1.0"/>
<circle cx="1172.7" cy="765.9" r="11" fill="rgb(46,67,153)" fill-opacity="0.57" stroke="#262626" stroke-width="1.0"/>
<circle cx="1195.1" cy="765.9" r="11" fill="rgb(46,67,153)" fill-opacity="0.57" stroke="#262626" stroke-width="1.0"/>
<circle cx="1195.1" cy="765.9" r="11" fill="rgb(46,67,153)" fill-opacity="0.57" stroke="#262626" stroke-width="1.0"/>
<circle cx="1100.8" cy="752.7" r="11" fill="rgb(46,67,153)" fill-opacity="0.57" stroke="#262626" stroke-width="1.0"/>
<circle cx="1152.4" cy="752.7" r="11" fill="rgb(46,67,153)" fill-opacity="0.57" stroke="#262626" stroke-width="1.0"/>
<circle cx="1152.4" cy="752.7" r="11" fill="rgb(46,67,153)" fill-opacity="0.57" stroke="#262626" stroke-width="1.0"/>
<circle cx="1172.7" cy="752.7" r="11" fill="rgb(46,67,153)" fill-opacity="0.57" stroke="#262626" stroke-width="1.0"/>
<circle cx="1134.5" cy="739.4" r="11" fill="rgb(46,67,153)" fill-opacity="0.57" stroke="#262626" stroke-width="1.0"/>
<circle cx="1147.9" cy="739.4" r="11" fill="rgb(46,67,153)" fill-opacity="0.57" stroke="#262626" stroke-width="1.0"/>
<circle cx="1170.4" cy="739.4" r="11" fill="rgb(46,67,153)" fill-opacity="0.57" stroke="#262626" stroke-width="1.0"/>
<circle cx="1204.1" cy="739.4" r="11" fill="rgb(46,67,153)" fill-opacity="0.57" stroke="#262626" stroke-width="1.0"/>
<circle cx="1118.7" cy="726.2" r="11" fill="rgb(46,67,153)" fill-opacity="0.57" stroke="#262626" stroke-width="1.0"/>
<circle cx="1130.0" cy="726.2" r="11" fill="rgb(46,67,153)" fill-opacity="0.57" stroke="#262626" stroke-width="1.0"/>
<circle cx="1145.7" cy="726.2" r="11" fill="rgb(46,67,153)" fill-opacity="0.57" stroke="#262626" stroke-width="1.0"/>
<circle cx="1100.8" cy="712.9" r="11" fill="rgb(46,67,153)" fill-opacity="0.57" stroke="#262626" stroke-width="1.0"/>
<circle cx="1143.4" cy="712.9" r="11" fill="rgb(46,67,153)" fill-opacity="0.57" stroke="#262626" stroke-width="1.0"/>
<circle cx="1163.7" cy="712.9" r="11" fill="rgb(46,67,153)" fill-opacity="0.57" stroke="#262626" stroke-width="1.0"/>
<circle cx="1147.9" cy="699.6" r="11" fill="rgb(46,67,153)" fill-opacity="0.57" stroke="#262626" stroke-width="1.0"/>
<circle cx="1154.7" cy="699.6" r="11" fill="rgb(46,67,153)" fill-opacity="0.57" stroke="#262626" stroke-width="1.0"/>
<circle cx="1197.4" cy="699.6" r="11" fill="rgb(46,67,153)" fill-opacity="0.57" stroke="#262626" stroke-width="1.0"/>
<circle cx="1215.3" cy="699.6" r="11" fill="rgb(46,67,153)" fill-opacity="0.57" stroke="#262626" stroke-width="1.0"/>
<circle cx="1060.3" cy="686.4" r="11" fill="rgb(46,67,153)" fill-opacity="0.57" stroke="#262626" stroke-width="1.0"/>
<circle cx="1172.7" cy="686.4" r="11" fill="rgb(46,67,153)" fill-opacity="0.57" stroke="#262626" stroke-width="1.0"/>
<circle cx="1181.6" cy="686.4" r="11" fill="rgb(46,67,153)" fill-opacity="0.57" stroke="#262626" stroke-width="1.0"/>
<circle cx="1215.3" cy="686.4" r="11" fill="rgb(46,67,153)" fill-opacity="0.57" stroke="#262626" stroke-width="1.0"/>
<circle cx="1219.8" cy="686.4" r="11" fill="rgb(46,67,153)" fill-opacity="0.57" stroke="#262626" stroke-width="1.0"/>
<circle cx="1226.6" cy="686.4" r="11" fill="rgb(46,67,153)" fill-opacity="0.57" stroke="#262626" stroke-width="1.0"/>
<circle cx="1228.8" cy="686.4" r="11" fill="rgb(46,67,153)" fill-opacity="0.57" stroke="#262626" stroke-width="1.0"/>
<circle cx="1249.1" cy="686.4" r="11" fill="rgb(46,67,153)" fill-opacity="0.57" stroke="#262626" stroke-width="1.0"/>
<circle cx="1287.3" cy="686.4" r="11" fill="rgb(46,67,153)" fill-opacity="0.57" stroke="#262626" stroke-width="1.0"/>
<circle cx="1260.3" cy="673.1" r="11" fill="rgb(46,67,153)" fill-opacity="0.57" stroke="#262626" stroke-width="1.0"/>
<circle cx="1298.5" cy="673.1" r="11" fill="rgb(46,67,153)" fill-opacity="0.57" stroke="#262626" stroke-width="1.0"/>
<circle cx="1291.7" cy="620.1" r="11" fill="rgb(46,67,153)" fill-opacity="0.57" stroke="#262626" stroke-width="1.0"/>
<circle cx="1298.5" cy="620.1" r="11" fill="rgb(46,67,153)" fill-opacity="0.57" stroke="#262626" stroke-width="1.0"/>
<circle cx="1307.5" cy="620.1" r="11" fill="rgb(46,67,153)" fill-opacity="0.57" stroke="#262626" stroke-width="1.0"/>
<circle cx="1312.0" cy="620.1" r="11" fill="rgb(46,67,153)" fill-opacity="0.57" stroke="#262626" stroke-width="1.0"/>
<circle cx="1352.4" cy="620.1" r="11" fill="rgb(46,67,153)" fill-opacity="0.57" stroke="#262626" stroke-width="1.0"/>
<circle cx="1356.9" cy="620.1" r="11" fill="rgb(46,67,153)" fill-opacity="0.57" stroke="#262626" stroke-width="1.0"/>
<circle cx="1383.9" cy="606.8" r="11" fill="rgb(46,67,153)" fill-opacity="0.57" stroke="#262626" stroke-width="1.0"/>
<line x1="812.4" y1="912.0" x2="1429.4" y2="588.0" stroke="#000" stroke-width="3.6"/>
<rect x="812.4" y="562.3" width="617.0000000000001" height="407.0" fill="none" stroke="#242424" stroke-width="1.25"/>
<line x1="805.4" y1="911.8" x2="812.4" y2="911.8" stroke="#333333" stroke-width="1.6"/>
<text transform="translate(795.9,921.4) scale(1,1.05)" x="0" y="0" text-anchor="end" font-family="Liberation Sans" font-size="26" fill="#4d4d4d">15</text>
<line x1="805.4" y1="845.5" x2="812.4" y2="845.5" stroke="#333333" stroke-width="1.6"/>
<text transform="translate(795.9,855.1) scale(1,1.05)" x="0" y="0" text-anchor="end" font-family="Liberation Sans" font-size="26" fill="#4d4d4d">20</text>
<line x1="805.4" y1="779.1999999999999" x2="812.4" y2="779.1999999999999" stroke="#333333" stroke-width="1.6"/>
<text transform="translate(795.9,788.8) scale(1,1.05)" x="0" y="0" text-anchor="end" font-family="Liberation Sans" font-size="26" fill="#4d4d4d">25</text>
<line x1="805.4" y1="712.9" x2="812.4" y2="712.9" stroke="#333333" stroke-width="1.6"/>
<text transform="translate(795.9,722.5) scale(1,1.05)" x="0" y="0" text-anchor="end" font-family="Liberation Sans" font-size="26" fill="#4d4d4d">30</text>
<line x1="805.4" y1="646.5999999999999" x2="812.4" y2="646.5999999999999" stroke="#333333" stroke-width="1.6"/>
<text transform="translate(795.9,656.2) scale(1,1.05)" x="0" y="0" text-anchor="end" font-family="Liberation Sans" font-size="26" fill="#4d4d4d">35</text>
<line x1="805.4" y1="580.3" x2="812.4" y2="580.3" stroke="#333333" stroke-width="1.6"/>
<text transform="translate(795.9,589.9) scale(1,1.05)" x="0" y="0" text-anchor="end" font-family="Liberation Sans" font-size="26" fill="#4d4d4d">40</text>
<line x1="840.1" y1="969.3" x2="840.1" y2="976.3" stroke="#333333" stroke-width="1.6"/>
<text transform="translate(840.1,1005.8) scale(1,1.05)" x="0" y="0" text-anchor="middle" font-family="Liberation Sans" font-size="26" fill="#4d4d4d">15</text>
<line x1="952.45" y1="969.3" x2="952.45" y2="976.3" stroke="#333333" stroke-width="1.6"/>
<text transform="translate(952.5,1005.8) scale(1,1.05)" x="0" y="0" text-anchor="middle" font-family="Liberation Sans" font-size="26" fill="#4d4d4d">20</text>
<line x1="1064.8" y1="969.3" x2="1064.8" y2="976.3" stroke="#333333" stroke-width="1.6"/>
<text transform="translate(1064.8,1005.8) scale(1,1.05)" x="0" y="0" text-anchor="middle" font-family="Liberation Sans" font-size="26" fill="#4d4d4d">25</text>
<line x1="1177.15" y1="969.3" x2="1177.15" y2="976.3" stroke="#333333" stroke-width="1.6"/>
<text transform="translate(1177.2,1005.8) scale(1,1.05)" x="0" y="0" text-anchor="middle" font-family="Liberation Sans" font-size="26" fill="#4d4d4d">30</text>
<line x1="1289.5" y1="969.3" x2="1289.5" y2="976.3" stroke="#333333" stroke-width="1.6"/>
<text transform="translate(1289.5,1005.8) scale(1,1.05)" x="0" y="0" text-anchor="middle" font-family="Liberation Sans" font-size="26" fill="#4d4d4d">35</text>
<line x1="1401.85" y1="969.3" x2="1401.85" y2="976.3" stroke="#333333" stroke-width="1.6"/>
<text transform="translate(1401.8,1005.8) scale(1,1.05)" x="0" y="0" text-anchor="middle" font-family="Liberation Sans" font-size="26" fill="#4d4d4d">40</text>
<text transform="translate(732.5,765.9) rotate(-90) scale(1,1.05)" text-anchor="middle" font-family="Liberation Sans" font-size="28.5" fill="#000">Simulated</text>
<text x="1120.8" y="1052.8" text-anchor="middle" font-family="Liberation Sans" font-size="28.5" fill="#000">Observed</text>
<text class="eq" x="1177.8" y="925.9" font-family="Liberation Sans" font-size="27" fill="#000">y</text>
<text class="eq" x="1195.8" y="926.9" font-family="Liberation Sans" font-size="26" fill="#000">=</text>
<text class="eq" x="1218.1" y="925.9" font-family="Liberation Sans" font-size="27" fill="#000">2.73</text>
<text class="eq" x="1275.4" y="927.4" font-family="Liberation Sans" font-size="26" fill="#000">+</text>
<text class="eq" x="1295.7" y="925.9" font-family="Liberation Sans" font-size="27" fill="#000">0.89x</text>
<text class="eq" x="1177.6" y="951.0" font-family="Liberation Sans" font-size="23" font-style="italic" fill="#000">R</text>
<text class="eq" x="1196.7" y="939.0" font-family="Liberation Sans" font-size="16" fill="#000">2</text>
<text class="eq" x="1210.9" y="952.2" font-family="Liberation Sans" font-size="24" fill="#000">=</text>
<text class="eq" x="1230.5" y="951.0" font-family="Liberation Sans" font-size="24" fill="#000">0.87</text>
<text class="eq" x="1278.8" y="949.7" font-family="Liberation Sans" font-size="23" fill="#000">***</text>
</svg>
</body></html>
